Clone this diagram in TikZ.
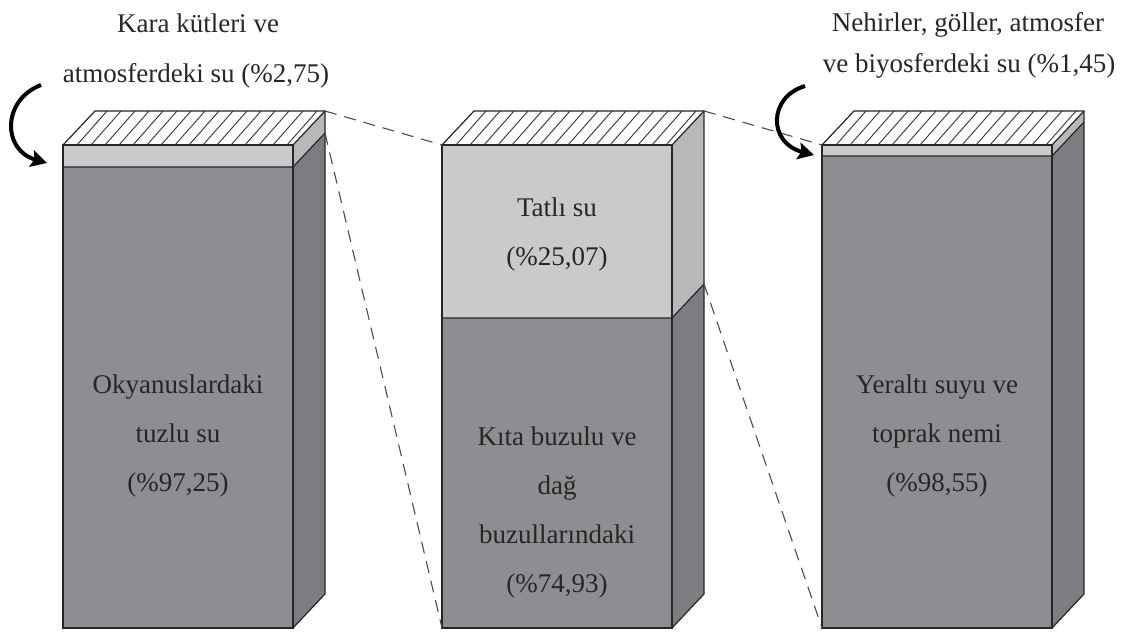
\documentclass[tikz,border=0pt]{standalone}
\usepackage{fontspec}
\setmainfont{Liberation Serif}
\usetikzlibrary{arrows.meta,positioning}
\definecolor{darkface}{RGB}{141,142,145}
\definecolor{darkside}{RGB}{124,125,128}
\definecolor{lightface}{RGB}{200,202,204}
\definecolor{lightside}{RGB}{182,184,186}

% one column: left x, right x, split y, name
\newcommand{\watercolumn}[4]{%
    \fill[darkface] (#1,#3) rectangle (#2,628);
    \fill[lightface] (#1,145) rectangle (#2,#3);
    \fill[darkside] (#2,#3) -- (#2+32,#3-34) -- (#2+32,594) -- (#2,628) -- cycle;
    \fill[lightside] (#2,145) -- (#2+32,111) -- (#2+32,#3-34) -- (#2,#3) -- cycle;
    \begin{scope}
        \clip (#1,145) -- (#1+32,111) -- (#2+32,111) -- (#2,145) -- cycle;
        \fill[white] (#1,145) rectangle (#2+32,111);
        \foreach \h in {-42,-28,...,280}
            \draw[hatch] (#1+\h,145) -- (#1+\h+30,111);
    \end{scope}
    \draw[edge] (#1,145) rectangle (#2,628);
    \draw[edge] (#1,145) -- (#1+32,111) -- (#2+32,111) -- (#2+32,594) -- (#2,628);
    \draw[edge] (#2,145) -- (#2+32,111);
    \draw[edge] (#1,#3) -- (#2,#3) -- (#2+32,#3-34);
    \coordinate (#4tl) at (#1,145);
    \coordinate (#4bl) at (#1,628);
    \coordinate (#4br) at (#2+32,111);
    \coordinate (#4sp) at (#2+32,#3-34);
}

\begin{document}
\begin{tikzpicture}[
    x=0.5pt, y=-0.5pt,
    edge/.style={draw=black!85, line width=0.6pt},
    hatch/.style={black!80, line width=0.45pt},
    guide/.style={black!70, line width=0.55pt, dash pattern=on 6pt off 4pt},
    boxtext/.style={font=\fontsize{13.5}{24.5}\selectfont, align=center, text=black!85},
    toptext/.style={font=\fontsize{13.5}{24.5}\selectfont, anchor=base, text=black!85},
    curlarrow/.style={-{Stealth[length=8pt,width=8.5pt,inset=1.5pt]}, line width=2pt},
]
    \useasboundingbox (0,0) rectangle (1138,635);

    % Columns
    \watercolumn{63}{293}{167}{ocean}
    \watercolumn{442}{672}{318}{fresh}
    \watercolumn{822}{1052}{156}{ground}

    % Zoom guides
    \draw[guide] (oceanbr) -- (freshtl);
    \draw[guide] (oceansp) -- (freshbl);
    \draw[guide] (freshbr) -- (groundtl);
    \draw[guide] (freshsp) -- (groundbl);

    % Column texts
    \node[boxtext] (salt) at (178,436) {Okyanuslardaki\\tuzlu su\\(\%97,25)};
    \node[boxtext] (sweet) at (557,235) {Tatlı su\\(\%25,07)};
    \node[boxtext] (ice) at (557,513) {Kıta buzulu ve\\dağ\\buzullarındaki\\(\%74,93)};
    \node[boxtext] (soil) at (937,436) {Yeraltı suyu ve\\toprak nemi\\(\%98,55)};

    % Top texts
    \node[toptext] (landa) at (198,33) {Kara kütleri ve};
    \node[toptext] (landb) at (196,83) {atmosferdeki su (\%2,75)};
    \node[toptext] (rivera) at (968,32) {Nehirler, göller, atmosfer};
    \node[toptext] (riverb) at (969,73) {ve biyosferdeki su (\%1,45)};

    % Arrows
    \coordinate (landfrom) at (41,85);
    \coordinate (landto) at (47,163);
    \coordinate (riverfrom) at (805,86);
    \coordinate (riverto) at (814,155);
    \draw[curlarrow] (landfrom) .. controls (2,100) and (2,150) .. (landto);
    \draw[curlarrow] (riverfrom) .. controls (768,97) and (768,143) .. (riverto);
\end{tikzpicture}
\end{document}
